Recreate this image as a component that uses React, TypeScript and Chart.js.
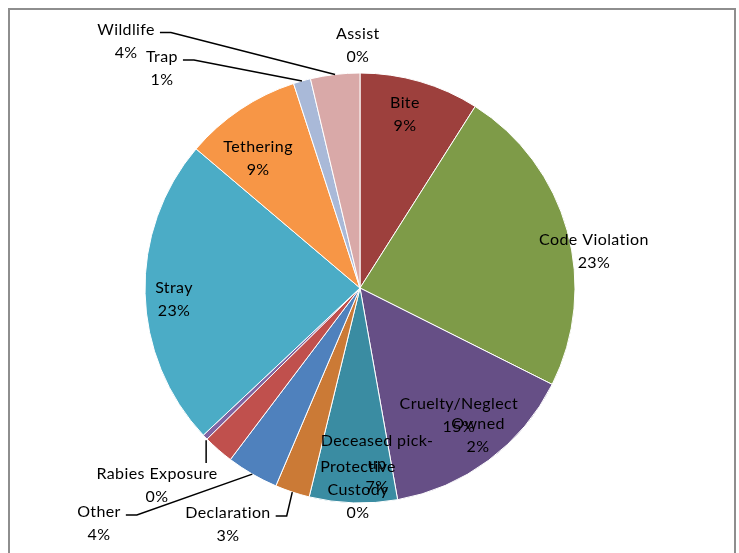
import React, { useEffect, useRef } from "react";
import { Chart, ArcElement, PieController } from "chart.js";

Chart.register(ArcElement, PieController);

// ---- data ----
const categories = [
  "Assist",
  "Bite",
  "Code Violation",
  "Cruelty/Neglect",
  "Deceased pick-up",
  "Declaration",
  "Other",
  "Owned",
  "Protective Custody",
  "Rabies Exposure",
  "Stray",
  "Tethering",
  "Trap",
  "Wildlife",
];
const values = [0, 9.0, 23.4, 14.8, 6.6, 2.6, 3.9, 2.3, 0, 0.4, 23.2, 8.8, 1.3, 3.7];
// label text as wrapped in the chart
const categoryLines = [
  ["Assist"],
  ["Bite"],
  ["Code Violation"],
  ["Cruelty/Neglect"],
  ["Deceased pick-", "up"],
  ["Declaration"],
  ["Other"],
  ["Owned"],
  ["Protective", "Custody"],
  ["Rabies Exposure"],
  ["Stray"],
  ["Tethering"],
  ["Trap"],
  ["Wildlife"],
];
const sliceColors = [
  "#3D6796",
  "#9D403D",
  "#7E9B48",
  "#664F86",
  "#3A8CA2",
  "#CB7A36",
  "#4F81BD",
  "#C0504D",
  "#9BBB59",
  "#8064A2",
  "#4BACC6",
  "#F79646",
  "#A9B9D8",
  "#D9A9A8",
];

// ---- label layout (offset of label centre from pie centre, in radius units) ----
const labelOffsets: [number, number][] = [
  [-0.01, -1.128],
  [0.209, -0.807],
  [1.088, -0.17],
  [0.46, 0.591],
  [0.079, 0.819],
  [-0.614, 1.1],
  [-1.214, 1.095],
  [0.549, 0.686],
  [-0.009, 0.94],
  [-0.944, 0.916],
  [-0.865, 0.053],
  [-0.474, -0.602],
  [-0.921, -1.021],
  [-1.088, -1.149],
];
const leaderStyles = [
  "none", "none", "none", "none", "none",
  "right", "right", "none", "none", "top",
  "none", "none", "right", "right",
];

const FONT_FAMILY = "Lato, 'Liberation Sans', sans-serif";
const FONT_SIZE = 16;
const LINE_H = 23;

const labelPlugin = {
  id: "sliceLabels",
  afterDatasetsDraw(chart: any) {
    const ctx: any = chart.ctx;
    const meta = chart.getDatasetMeta(0);
    const total = values.reduce((a, b) => a + b, 0);
    ctx.save();
    ctx.font = `${FONT_SIZE}px ${FONT_FAMILY}`;
    if ("letterSpacing" in ctx) ctx.letterSpacing = "0.4px";
    ctx.fillStyle = "#000";
    ctx.strokeStyle = "#000";
    ctx.lineWidth = 1.5;
    ctx.textAlign = "center";
    ctx.textBaseline = "middle";
    meta.data.forEach((arc: any, i: number) => {
      const p = arc.getProps(["x", "y", "startAngle", "endAngle", "outerRadius"], true);
      const R = p.outerRadius;
      const lines = [...categoryLines[i], Math.round((values[i] / total) * 100) + "%"];
      const [ox, oy] = labelOffsets[i];
      const cx = p.x + ox * R;
      const cy = p.y + oy * R;
      const top = cy - (lines.length * LINE_H) / 2;
      lines.forEach((t, k) => ctx.fillText(t, cx, top + LINE_H * (k + 0.5)));
      const mid = (p.startAngle + p.endAngle) / 2;
      const px = p.x + Math.cos(mid) * R;
      const py = p.y + Math.sin(mid) * R;
      const style = leaderStyles[i];
      if (style === "right") {
        const w = Math.max(...lines.map((t) => ctx.measureText(t).width));
        const sx = cx + w / 2 + 5;
        const sy = top + LINE_H * 0.5 + 3;
        ctx.beginPath();
        ctx.moveTo(sx, sy);
        ctx.lineTo(sx + 11, sy);
        ctx.lineTo(px, py);
        ctx.stroke();
      } else if (style === "top") {
        ctx.beginPath();
        ctx.moveTo(px + 1, py + 3);
        ctx.lineTo(px + 1, top + 1);
        ctx.stroke();
      }
    });
    ctx.restore();
  },
};

export default function App() {
  const canvasRef = useRef<HTMLCanvasElement | null>(null);

  useEffect(() => {
    if (!canvasRef.current) return;
    const chart = new Chart(canvasRef.current, {
      type: "pie",
      data: {
        labels: categories,
        datasets: [
          {
            data: values,
            backgroundColor: sliceColors,
            borderColor: "#ffffff",
            borderWidth: 1,
          },
        ],
      },
      options: {
        animation: false,
        responsive: true,
        maintainAspectRatio: false,
        events: [],
        layout: { padding: { top: 62.5, bottom: 62.5, left: 0, right: 0 } },
        plugins: { legend: { display: false }, tooltip: { enabled: false } } as any,
      },
      plugins: [labelPlugin],
    });
    return () => chart.destroy();
  }, []);

  return (
    <div
      style={{
        position: "fixed",
        left: 8,
        top: 8,
        width: 724,
        height: 560,
        border: "2px solid #8e8e8e",
        background: "#fff",
        overflow: "hidden",
      }}
    >
      <div style={{ position: "absolute", left: 0, top: 0, width: 700, height: 556 }}>
        <canvas ref={canvasRef} />
      </div>
    </div>
  );
}
